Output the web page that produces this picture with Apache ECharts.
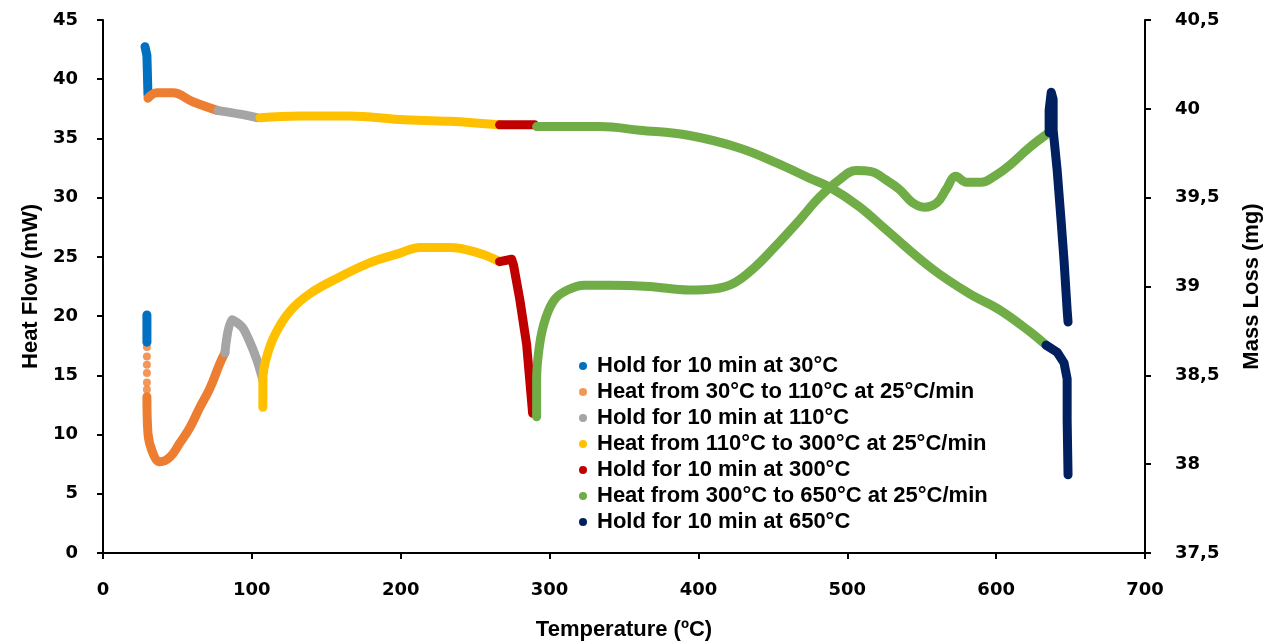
<!DOCTYPE html>
<html>
<head>
<meta charset="utf-8"/>
<title>TGA / DSC</title>
<script src="https://cdn.jsdelivr.net/npm/echarts@6/dist/echarts.min.js"></script>
<style>
  html, body { margin: 0; padding: 0; background: #fff; }
  #chart { width: 1267px; height: 642px; }
</style>
<script>
// phase names (legend)
var phases = [
  'Hold for 10 min at 30°C',
  'Heat from 30°C to 110°C at 25°C/min',
  'Hold for 10 min at 110°C',
  'Heat from 110°C to 300°C at 25°C/min',
  'Hold for 10 min at 300°C',
  'Heat from 300°C to 650°C at 25°C/min',
  'Hold for 10 min at 650°C'
];
var colors = ['#0070C0', '#ED7D31', '#A5A5A5', '#FFC000', '#C00000', '#70AD47', '#002060'];

// heat flow (mW) : [temperature, value]
var hf30 = [[29.5, 20.1], [29.5, 17.8]];
var hf30to110Dots = [[29.5, 17.4], [29.5, 16.6], [29.5, 15.9], [29.5, 15.2], [29.5, 14.4], [29.5, 13.8]];
var hf30to110 = [[29.5, 13.2], [30.2, 10.1], [33.6, 8.4], [38.3, 7.7], [45, 8.1], [51.7, 9.3], [58.4, 10.6],
  [65.1, 12.3], [71.8, 13.9], [78.5, 16.0], [81.9, 16.9]];
var hf110 = [[81.9, 16.9], [86.6, 19.7], [93.3, 19.1], [97.3, 18.2], [103.4, 16.3], [107.4, 14.6]];
var hf110to300 = [[107.4, 12.3], [107.4, 14.6], [109.4, 16.3], [115.4, 18.4], [125.5, 20.4], [139, 21.9],
  [159, 23.3], [179, 24.5], [199, 25.3], [213, 25.8], [233, 25.8], [253, 25.3], [266.4, 24.6]];
var hf300 = [[266.4, 24.6], [274.5, 24.8], [275.8, 24.3], [280, 21.4], [284.6, 17.6], [288.6, 11.8]];
var hf300to650 = [[291.3, 11.5], [291.3, 14.6], [293.3, 17.6], [297.3, 19.8], [303.4, 21.4], [312, 22.2],
  [323.5, 22.6], [340, 22.6], [367, 22.5], [394, 22.2], [410.7, 22.3], [424, 22.8], [437.6, 24.1],
  [451, 25.8], [467.8, 28.1], [481, 30], [494.6, 31.5], [506, 32.3], [516, 32.2], [526, 31.5],
  [535, 30.7], [543.6, 29.6], [551.7, 29.2], [560.4, 29.6], [566.4, 30.7], [573, 31.8], [580, 31.3],
  [590, 31.3], [598.7, 31.8], [608.7, 32.7], [622, 34.2], [635.6, 35.5]];
var hf650 = [[635.6, 35.5], [635.6, 37.4], [637, 38.9], [638.3, 38.3], [638.3, 35.7], [641, 32.3],
  [643.6, 28.1], [645.6, 24.7], [647.7, 20.5], [648.3, 19.5]];

// mass (mg) : [temperature, value]
var m30 = [[28.2, 40.35], [29.5, 40.30], [30.2, 40.08]];
var m30to110 = [[30.2, 40.06], [36.2, 40.09], [47, 40.09], [60.4, 40.04], [77.2, 39.99]];
var m110 = [[77.2, 39.99], [92, 39.97], [103.4, 39.95]];
var m110to300 = [[105.4, 39.95], [132, 39.96], [165.8, 39.96], [199.3, 39.94], [233, 39.93], [266.4, 39.91]];
var m300 = [[266.4, 39.91], [290, 39.91]];
var m300to650 = [[291.3, 39.90], [333.6, 39.90], [360.4, 39.88], [394, 39.85], [427.5, 39.78], [454, 39.69],
  [474.5, 39.61], [488, 39.56], [508, 39.45], [526, 39.32], [557, 39.10], [582, 38.96], [602, 38.87],
  [622, 38.75], [633.5, 38.67]];
var m650 = [[633.5, 38.67], [641, 38.63], [645.6, 38.57], [647.7, 38.48], [647.7, 38.25], [648.3, 37.94]];

var xTicks = { min: 0, max: 700, step: 100 };
var hfTicks = { min: 0, max: 45, step: 5 };
var mTicks = { min: 37.5, max: 40.5, step: 0.5 };
</script>
</head>
<body>
<div id="chart"></div>
<script>
var chart = echarts.init(document.getElementById('chart'));

var tickFont = { fontFamily: 'DejaVu Sans', fontWeight: 'bold', fontSize: 18, color: '#000' };
var nameFont = { fontFamily: 'Liberation Sans', fontWeight: 'bold', fontSize: 22, color: '#000' };
var axLine = { show: true, onZero: false, lineStyle: { color: '#000', width: 2 } };
var axTick = { show: true, inside: false, length: 6, lineStyle: { color: '#000', width: 2 } };

function lineSeries(idx, data, yIdx, smooth) {
  return {
    name: phases[idx],
    type: 'line',
    yAxisIndex: yIdx,
    data: data,
    smooth: smooth,
    symbol: 'none',
    color: colors[idx],
    lineStyle: { color: colors[idx], width: 9, cap: 'round', join: 'round' },
    emphasis: { disabled: true }
  };
}

var series = [
  lineSeries(0, hf30, 0, false),
  lineSeries(0, m30, 1, false),
  {
    name: phases[1], type: 'scatter', yAxisIndex: 0, data: hf30to110Dots,
    symbol: 'circle', symbolSize: 8, itemStyle: { color: colors[1] }, color: colors[1]
  },
  lineSeries(1, hf30to110, 0, 0.4),
  lineSeries(1, m30to110, 1, 0.4),
  lineSeries(2, hf110, 0, 0.3),
  lineSeries(2, m110, 1, 0.3),
  lineSeries(3, hf110to300, 0, 0.4),
  lineSeries(3, m110to300, 1, 0.4),
  lineSeries(4, hf300, 0, false),
  lineSeries(4, m300, 1, false),
  lineSeries(5, hf300to650, 0, 0.4),
  lineSeries(5, m300to650, 1, 0.4),
  lineSeries(6, hf650, 0, false),
  lineSeries(6, m650, 1, false)
];

var option = {
  animation: false,
  backgroundColor: '#fff',
  grid: { left: 103, right: 122, top: 20, bottom: 89, containLabel: false, outerBoundsMode: 'none' },
  legend: {
    data: phases,
    orient: 'vertical',
    left: 574,
    top: 350,
    icon: 'circle',
    itemWidth: 8,
    itemHeight: 8,
    itemGap: 4,
    selectedMode: false,
    textStyle: { fontFamily: 'Liberation Sans', fontWeight: 'bold', fontSize: 22, color: '#000', lineHeight: 22, padding: [0, 0, 0, 5] }
  },
  xAxis: {
    type: 'value',
    min: xTicks.min, max: xTicks.max, interval: xTicks.step,
    name: 'Temperature (ºC)',
    nameLocation: 'middle',
    nameGap: 66,
    nameTextStyle: nameFont,
    axisLine: axLine,
    axisTick: axTick,
    axisLabel: Object.assign({ margin: 28 }, tickFont),
    splitLine: { show: false }
  },
  yAxis: [
    {
      type: 'value',
      min: hfTicks.min, max: hfTicks.max, interval: hfTicks.step,
      name: 'Heat Flow (mW)',
      nameLocation: 'middle',
      nameGap: 60,
      nameTextStyle: nameFont,
      axisLine: axLine,
      axisTick: axTick,
      axisLabel: Object.assign({ margin: 25 }, tickFont),
      splitLine: { show: false }
    },
    {
      type: 'value',
      position: 'right',
      min: mTicks.min, max: mTicks.max, interval: mTicks.step,
      name: 'Mass Loss (mg)',
      nameLocation: 'middle',
      nameGap: 96,
      nameTextStyle: nameFont,
      axisLine: axLine,
      axisTick: axTick,
      axisLabel: Object.assign({
        margin: 30,
        formatter: function (v) {
          return Number.isInteger(v) ? String(v) : v.toFixed(1).replace('.', ',');
        }
      }, tickFont),
      splitLine: { show: false }
    }
  ],
  series: series
};

chart.setOption(option);
</script>
</body>
</html>
